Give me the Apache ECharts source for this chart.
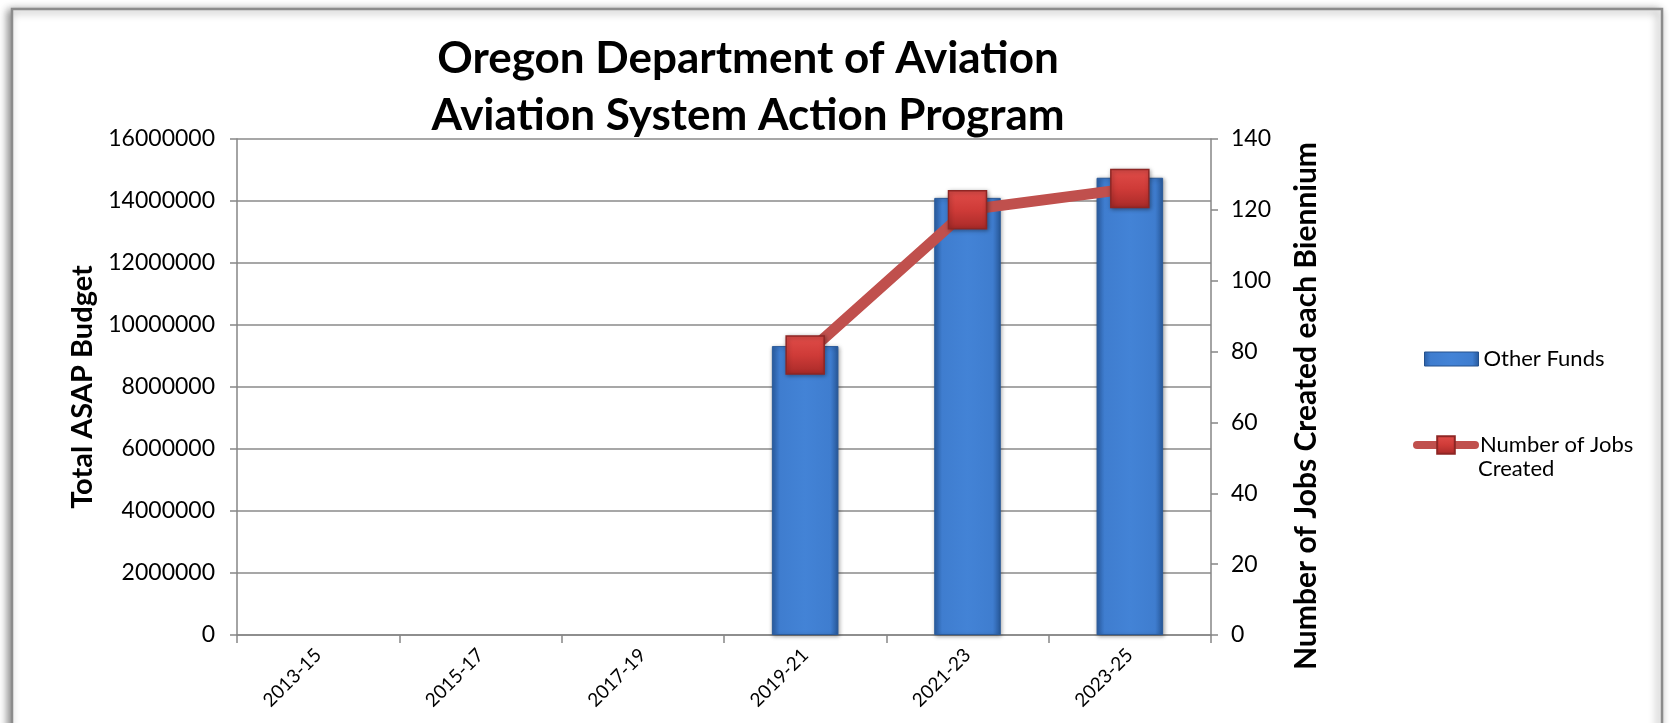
<!DOCTYPE html>
<html>
<head>
<meta charset="utf-8">
<script src="https://cdn.jsdelivr.net/npm/echarts@6/dist/echarts.min.js"></script>
<style>
html,body{margin:0;padding:0;background:#fff;}
#chart{width:1676px;height:723px;}
</style>
</head>
<body>
<div id="chart"></div>
<script>
const categories = ['2013-15', '2015-17', '2017-19', '2019-21', '2021-23', '2023-25'];
const otherFunds = [null, null, null, 9320000, 14100000, 14750000];
const jobsCreated = [null, null, null, 79, 120, 126];
const titleLines = ['Oregon Department of Aviation', 'Aviation System Action Program'];

const FONT = 'Lato, "Open Sans", sans-serif';
const chart = echarts.init(document.getElementById('chart'), null, {renderer: 'canvas'});

const barGradient = new echarts.graphic.LinearGradient(0, 0, 1, 0, [
  {offset: 0, color: '#2b5fa6'},
  {offset: 0.12, color: '#3f7dcf'},
  {offset: 0.5, color: '#4383d6'},
  {offset: 0.88, color: '#3f7dcf'},
  {offset: 1, color: '#28599b'}
]);
const markerGradient = new echarts.graphic.LinearGradient(0, 0, 0, 1, [
  {offset: 0, color: '#e04d49'},
  {offset: 0.5, color: '#cf3b38'},
  {offset: 1, color: '#a82a28'}
]);

chart.setOption({
  backgroundColor: '#ffffff',
  animation: false,
  textStyle: {fontFamily: FONT},
  graphic: [
    {
      type: 'rect', z: -10, silent: true,
      shape: {x: 12, y: 9, width: 1650, height: 740},
      style: {fill: '#ffffff', stroke: '#8c8c8c', lineWidth: 2.5,
        shadowBlur: 8, shadowColor: 'rgba(0,0,0,0.45)', shadowOffsetX: -3, shadowOffsetY: 2}
    },
    {
      type: 'text', x: 748, y: 30, z: 10,
      style: {text: titleLines.join('\n'), font: 'bold 44px ' + FONT, fill: '#000',
        textAlign: 'center', textVerticalAlign: 'top', lineHeight: 57}
    },
    {
      type: 'text', x: 1478, y: 458, z: 10,
      style: {text: 'Created', font: '22px ' + FONT, fill: '#000', textVerticalAlign: 'top'}
    }
  ],
  grid: {left: 237, right: 465, top: 139, bottom: 88, containLabel: false},
  legend: [
    {
      data: [{name: 'Other Funds', icon: 'rect'}],
      orient: 'vertical', left: 1419, top: 343,
      itemWidth: 54, itemHeight: 14, itemGap: 0,
      textStyle: {fontSize: 22, fontFamily: FONT, color: '#000'},
      itemStyle: {color: barGradient, borderColor: '#25518c', borderWidth: 1}
    },
    {
      data: ['Number of Jobs Created'],
      orient: 'vertical', left: 1408, top: 429,
      itemWidth: 58, itemHeight: 22, itemGap: 0,
      formatter: function () { return 'Number of Jobs'; },
      textStyle: {fontSize: 22, fontFamily: FONT, color: '#000'},
      lineStyle: {width: 8, color: '#c0504d', cap: 'round'}
    }
  ],
  xAxis: {
    type: 'category',
    data: categories,
    boundaryGap: true,
    axisLine: {lineStyle: {color: '#868686', width: 1.5}},
    axisTick: {show: true, length: 8, interval: 0, alignWithLabel: false, lineStyle: {color: '#868686', width: 1.5}},
    axisLabel: {rotate: 45, fontSize: 19, fontFamily: FONT, color: '#000', margin: 17, interval: 0}
  },
  yAxis: [
    {
      type: 'value', min: 0, max: 16000000, interval: 2000000,
      name: 'Total ASAP Budget', nameLocation: 'middle', nameRotate: 90, nameGap: 138,
      nameTextStyle: {fontSize: 29, fontWeight: 'bold', fontFamily: FONT, color: '#000'},
      axisLine: {show: true, lineStyle: {color: '#868686', width: 1.5}},
      axisTick: {show: true, length: 7, lineStyle: {color: '#868686', width: 1.5}},
      axisLabel: {fontSize: 23, fontFamily: FONT, color: '#000', margin: 22,
        formatter: function (v) { return String(v); }},
      splitLine: {show: true, lineStyle: {color: '#8a8a8a', width: 1.5}}
    },
    {
      type: 'value', min: 0, max: 140, interval: 20, position: 'right',
      name: 'Number of Jobs Created each Biennium', nameLocation: 'middle', nameRotate: 90, nameGap: 80,
      nameTextStyle: {fontSize: 30, fontWeight: 'bold', fontFamily: FONT, color: '#000', padding: [0, 38, 0, 0]},
      axisLine: {show: true, lineStyle: {color: '#868686', width: 1.5}},
      axisTick: {show: true, length: 7, lineStyle: {color: '#868686', width: 1.5}},
      axisLabel: {fontSize: 23, fontFamily: FONT, color: '#000', margin: 20},
      splitLine: {show: false}
    }
  ],
  series: [
    {
      name: 'Other Funds', type: 'bar', yAxisIndex: 0,
      data: otherFunds, barWidth: '41%',
      itemStyle: {color: barGradient, borderColor: '#2a5a99', borderWidth: 1,
        shadowBlur: 4, shadowColor: 'rgba(0,0,0,0.35)', shadowOffsetX: 1, shadowOffsetY: 1}
    },
    {
      name: 'Number of Jobs Created', type: 'line', yAxisIndex: 1,
      data: jobsCreated, connectNulls: false,
      symbol: 'rect', symbolSize: 38,
      lineStyle: {color: '#c0504d', width: 11},
      itemStyle: {color: markerGradient, borderColor: '#8e2624', borderWidth: 1.5,
        shadowBlur: 4, shadowColor: 'rgba(0,0,0,0.35)', shadowOffsetX: 1, shadowOffsetY: 1}
    }
  ]
});
</script>
</body>
</html>
